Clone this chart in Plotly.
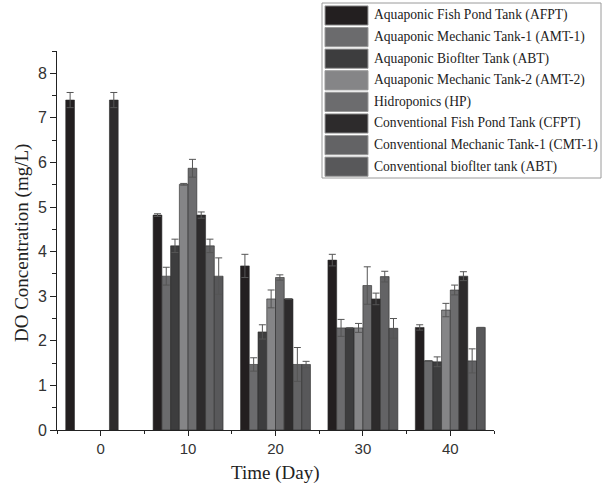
import plotly.graph_objects as go

days = [0, 10, 20, 30, 40]
names = [
    "Aquaponic Fish Pond Tank (AFPT)",
    "Aquaponic Mechanic Tank-1 (AMT-1)",
    "Aquaponic Bioflter Tank (ABT)",
    "Aquaponic Mechanic Tank-2 (AMT-2)",
    "Hidroponics (HP)",
    "Conventional Fish Pond Tank (CFPT)",
    "Conventional Mechanic Tank-1 (CMT-1)",
    "Conventional bioflter tank (ABT)",
]
afpt = [7.40, 4.82, 3.68, 3.81, 2.30]
amt1 = [None, 3.45, 1.47, 2.29, 1.55]
abt = [None, 4.13, 2.20, 2.29, 1.53]
amt2 = [None, 5.51, 2.94, 2.29, 2.69]
hp = [None, 5.87, 3.42, 3.24, 3.14]
cfpt = [7.40, 4.82, 2.94, 2.94, 3.45]
cmt1 = [None, 4.13, 1.47, 3.44, 1.55]
cbt = [None, 3.45, 1.47, 2.28, 2.30]

afpt_err = [0.17, 0.03, 0.26, 0.13, 0.06]
amt1_err = [0, 0.20, 0.15, 0.19, 0.0]
abt_err = [0, 0.15, 0.16, 0.0, 0.11]
amt2_err = [0, 0.02, 0.20, 0.10, 0.15]
hp_err = [0, 0.20, 0.06, 0.42, 0.11]
cfpt_err = [0.17, 0.07, 0.0, 0.13, 0.10]
cmt1_err = [0, 0.15, 0.38, 0.12, 0.27]
cbt_err = [0, 0.41, 0.07, 0.22, 0.0]

series = [afpt, amt1, abt, amt2, hp, cfpt, cmt1, cbt]
errors = [afpt_err, amt1_err, abt_err, amt2_err, hp_err, cfpt_err, cmt1_err, cbt_err]
colors = ["#231f20", "#6b6b6d", "#3d3d3e", "#858587", "#6c6c6e", "#2d2b2c", "#636365", "#58585a"]

W, H = 605, 493
L, R, T, B = 57, 111, 51, 63
pw, ph = W - L - R, H - T - B


def px(x):
    return (x - L) / pw


def py(y):
    return (H - B - y) / ph


fig = go.Figure()
for name, vals, err, col in zip(names, series, errors, colors):
    fig.add_trace(go.Bar(
        x=days, y=vals, name=name,
        marker=dict(color=col, line=dict(color="#2a2a2a", width=0.6)),
        error_y=dict(type="data", array=err, visible=True, color="#555555",
                     thickness=1, width=3.5),
        showlegend=False,
    ))

shapes = []
annotations = []
# legend box
shapes.append(dict(type="rect", xref="paper", yref="paper",
                   x0=px(322), x1=px(601), y0=py(178), y1=py(3),
                   line=dict(color="#9a9a9a", width=1), fillcolor="white", layer="above"))
for i, (name, col) in enumerate(zip(names, colors)):
    cy = 15.5 + 21.6 * i
    shapes.append(dict(type="rect", xref="paper", yref="paper",
                       x0=px(325), x1=px(368), y0=py(cy + 9.6), y1=py(cy - 9.6),
                       line=dict(color="#9a9a9a", width=1), fillcolor=col, layer="above"))
    annotations.append(dict(xref="paper", yref="paper", x=px(372), y=py(cy),
                            xanchor="left", yanchor="middle", showarrow=False, text=name,
                            font=dict(family="Liberation Serif", size=13.6, color="#222")))

annotations.append(dict(xref="paper", yref="paper", x=px(22), y=py(243), text="DO Concentration (mg/L)",
                        textangle=-90, showarrow=False, xanchor="center", yanchor="middle",
                        font=dict(family="Liberation Serif", size=19, color="#222")))
annotations.append(dict(xref="paper", yref="paper", x=px(275), y=py(473), text="Time (Day)",
                        showarrow=False, xanchor="center", yanchor="middle",
                        font=dict(family="Liberation Serif", size=19, color="#222")))

fig.update_layout(
    width=W, height=H,
    margin=dict(l=L, r=R, t=T, b=B),
    barmode="group", bargap=0.2, bargroupgap=0,
    plot_bgcolor="white", paper_bgcolor="white",
    shapes=shapes, annotations=annotations,
    xaxis=dict(range=[-5, 45], tickvals=days, ticks="outside", ticklen=5, tickwidth=1,
               tickcolor="#222", showline=True, linecolor="#222", linewidth=1,
               showgrid=False, zeroline=False,
               tickfont=dict(family="Liberation Sans", size=15, color="#333"),
               minor=dict(dtick=5, tick0=0, ticks="outside", ticklen=3, tickcolor="#222", showgrid=False)),
    yaxis=dict(range=[0, 8.5], dtick=1, ticks="outside", ticklen=6, tickwidth=1,
               tickcolor="#222", showline=True, linecolor="#222", linewidth=1,
               showgrid=False, zeroline=False,
               tickfont=dict(family="Liberation Sans", size=16, color="#333"),
               minor=dict(dtick=0.5, tick0=0, ticks="outside", ticklen=4, tickcolor="#222", showgrid=False)),
)

fig.write_html("out.html")
